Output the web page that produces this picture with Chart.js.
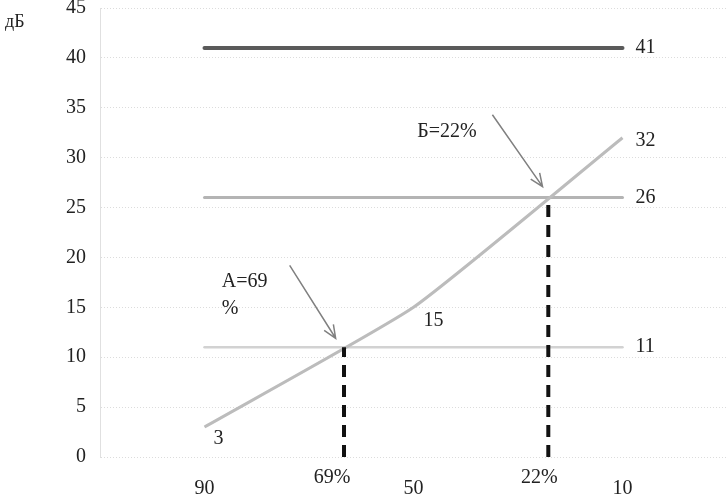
<!DOCTYPE html>
<html>
<head>
<meta charset="utf-8">
<script src="https://cdn.jsdelivr.net/npm/chart.js@4/dist/chart.umd.min.js"></script>
<style>
  body { margin: 0; background: #fff; }
  #wrap { width: 727px; height: 499px; }
</style>
</head>
<body>
<div id="wrap"><canvas id="myChart"></canvas></div>
<script>
// axis ticks
const xTicks = [90, 50, 10];
const yMax = 45;

// rising curve
const curveX = [90, 50, 10];
const curveY = [3, 15, 32];

// horizontal levels (dB)
const levels = [41, 26, 11];
const levelColors = ["#5a5a5a", "#b4b4b4", "#d2d2d2"];
const levelWidths = [4, 3, 2.5];

// crossing points A and B
const crossX = [63.3, 24.2];
const crossY = [11, 26];
const crossLabels = ["69%", "22%"];
const crossLabelX = [65.6, 25.9];

// annotation texts and arrows (data units)
const noteA = { text: ["A=69", "%"], x: 86.7, y: [17.6, 14.9], from: [73.7, 19.2], to: [64.9, 11.9] };
const noteB = { text: ["Б=22%"], x: 49.3, y: [32.6], from: [34.9, 34.3], to: [25.3, 27.1] };

const serif = "'Liberation Serif', 'DejaVu Serif', serif";

function toPts(xs, ys) {
  return xs.map((x, i) => ({ x: x, y: ys[i] }));
}

let datasets = [];
levels.forEach((v, i) => {
  datasets.push({
    data: [{ x: 90, y: v }, { x: 10, y: v }],
    borderColor: levelColors[i],
    borderWidth: levelWidths[i],
    pointRadius: 0,
    borderCapStyle: "round",
    order: 3
  });
});
datasets.push({
  data: toPts(curveX, curveY),
  borderColor: "#bcbcbc",
  borderWidth: 3,
  pointRadius: 0,
  tension: 0.15,
  order: 2
});
crossX.forEach((x, i) => {
  datasets.push({
    data: [{ x: x, y: 0 }, { x: x, y: crossY[i] }],
    borderColor: "#111",
    borderWidth: 4,
    borderDash: [12, 8],
    pointRadius: 0,
    order: 1
  });
});

const textPlugin = {
  id: "texts",
  afterDatasetsDraw(chart) {
    const c = chart.ctx;
    const xs = chart.scales.x, ys = chart.scales.y;
    c.save();
    c.fillStyle = "#222";
    c.font = "20px " + serif;
    c.textBaseline = "middle";

    // level value labels on the right
    c.textAlign = "left";
    levels.forEach(v => c.fillText(String(v), xs.getPixelForValue(10) + 13, ys.getPixelForValue(v)));
    c.fillText(String(curveY[2]), xs.getPixelForValue(10) + 13, ys.getPixelForValue(curveY[2]) + 3);
    c.fillText(String(curveY[1]), xs.getPixelForValue(curveX[1]) + 10, ys.getPixelForValue(curveY[1]) + 13);
    c.fillText(String(curveY[0]), xs.getPixelForValue(curveX[0]) + 9, ys.getPixelForValue(curveY[0]) + 12);

    // crossing labels below axis
    c.textAlign = "center";
    crossLabels.forEach((t, i) => c.fillText(t, xs.getPixelForValue(crossLabelX[i]), ys.getPixelForValue(0) + 21));

    // notes
    c.textAlign = "left";
    [noteA, noteB].forEach(n => {
      n.text.forEach((t, j) => c.fillText(t, xs.getPixelForValue(n.x), ys.getPixelForValue(n.y[j])));
      const x1 = xs.getPixelForValue(n.from[0]), y1 = ys.getPixelForValue(n.from[1]);
      const x2 = xs.getPixelForValue(n.to[0]), y2 = ys.getPixelForValue(n.to[1]);
      c.strokeStyle = "#808080";
      c.lineWidth = 1.5;
      c.beginPath();
      c.moveTo(x1, y1);
      c.lineTo(x2, y2);
      const a = Math.atan2(y2 - y1, x2 - x1);
      c.moveTo(x2 - 14 * Math.cos(a - 0.4), y2 - 14 * Math.sin(a - 0.4));
      c.lineTo(x2, y2);
      c.lineTo(x2 - 14 * Math.cos(a + 0.4), y2 - 14 * Math.sin(a + 0.4));
      c.stroke();
    });

    // unit label
    c.font = "18px " + serif;
    c.fillText("дБ", 5, 22);
    c.restore();
  }
};

window.onload = function () {
  var ctx = document.getElementById("myChart").getContext("2d");
  new Chart(ctx, {
    type: "line",
    data: { datasets: datasets },
    options: {
      responsive: true,
      maintainAspectRatio: false,
      animation: false,
      layout: { padding: { top: 0, right: 0, left: 0, bottom: 0 } },
      plugins: { legend: { display: false }, tooltip: { enabled: false } },
      scales: {
        x: {
          type: "linear",
          min: -10,
          max: 110,
          reverse: true,
          afterBuildTicks: s => { s.ticks = xTicks.map(v => ({ value: v })); },
          afterFit: s => { s.height = 42; },
          grid: { display: false, drawTicks: false },
          border: { display: false },
          ticks: { color: "#222", font: { family: serif, size: 20 }, padding: 20, maxRotation: 0 }
        },
        y: {
          min: 0,
          max: yMax,
          afterFit: s => { s.width = 100; s.paddingTop = 8; },
          ticks: { stepSize: 5, color: "#222", font: { family: serif, size: 20 }, padding: 14 },
          grid: { color: "#dcdcdc", lineWidth: 1, drawTicks: false },
          border: { display: true, color: "#e0e0e0", dash: [1, 2] }
        }
      }
    },
    plugins: [textPlugin]
  });
};
</script>
</body>
</html>
